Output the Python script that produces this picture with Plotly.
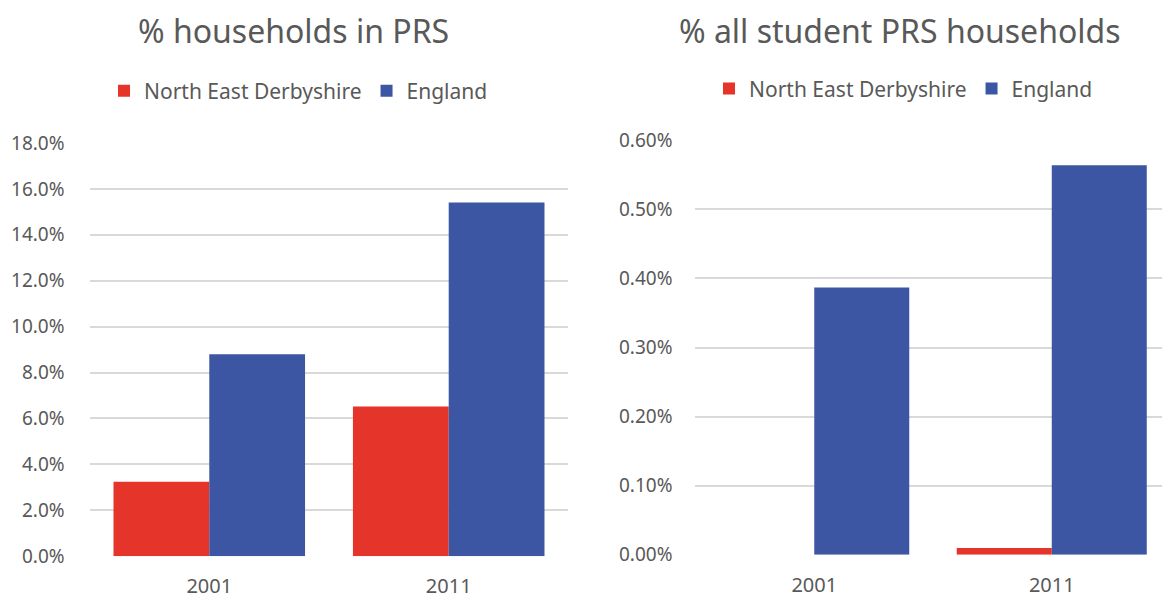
import plotly.graph_objects as go

years = ["2001", "2011"]
ned_prs = [3.24, 6.52]          # % households in PRS, North East Derbyshire
eng_prs = [8.80, 15.41]         # % households in PRS, England
ned_student = [0.0, 0.010]      # % all student PRS households, North East Derbyshire
eng_student = [0.387, 0.564]    # % all student PRS households, England

RED = "#E5352A"
BLUE = "#3C56A3"
GREY = "#595959"
FONT = "Noto Sans"

fig = go.Figure()

# left chart
fig.add_trace(go.Bar(x=years, y=ned_prs, name="North East Derbyshire", marker_color=RED,
                     xaxis="x", yaxis="y", legend="legend"))
fig.add_trace(go.Bar(x=years, y=eng_prs, name="England", marker_color=BLUE,
                     xaxis="x", yaxis="y", legend="legend"))
# right chart
fig.add_trace(go.Bar(x=years, y=ned_student, name="North East Derbyshire", marker_color=RED,
                     xaxis="x2", yaxis="y2", legend="legend2"))
fig.add_trace(go.Bar(x=years, y=eng_student, name="England", marker_color=BLUE,
                     xaxis="x2", yaxis="y2", legend="legend2"))

fig.update_traces(marker_line_width=0, hoverinfo="x+y+name")

ytick_font = dict(family=FONT, size=19, color=GREY)
xtick_font = dict(family=FONT, size=20, color=GREY)
grid = dict(showgrid=True, gridcolor="#D9D9D9", gridwidth=2, zeroline=False)

fig.update_layout(
    width=1170, height=600,
    margin=dict(l=0, r=0, t=0, b=0),
    plot_bgcolor="white", paper_bgcolor="white",
    font=dict(family=FONT, color=GREY),
    barmode="group", bargap=0.2, bargroupgap=0,
    xaxis=dict(domain=[0.0697, 0.479], anchor="y", tickfont=xtick_font,
               showline=False, ticks="", ticklabelstandoff=16),
    yaxis=dict(domain=[0.0677, 0.7875], anchor="x", range=[0, 18], dtick=2,
               tickformat=".1f", ticksuffix="%", tickfont=ytick_font,
               ticklabelstandoff=24, **grid),
    xaxis2=dict(domain=[0.5876, 0.9936], anchor="y2", tickfont=xtick_font,
                showline=False, ticks="", ticklabelstandoff=16),
    yaxis2=dict(domain=[0.07, 0.7922], anchor="x2", range=[0, 0.6], dtick=0.1,
                tickformat=".2f", ticksuffix="%", tickfont=ytick_font,
                ticklabelstandoff=22, **grid),
    legend=dict(orientation="h", x=0.2483, xanchor="center", y=0.8777,
                yanchor="middle", font=dict(family=FONT, size=21, color=GREY),
                itemwidth=30, traceorder="normal"),
    legend2=dict(orientation="h", x=0.7654, xanchor="center", y=0.882,
                 yanchor="middle", font=dict(family=FONT, size=21, color=GREY),
                 itemwidth=30, traceorder="normal"),
    annotations=[
        dict(text="% households in PRS", x=0.2444, y=1.025, xref="paper",
             yref="paper", xanchor="center", yanchor="top", showarrow=False,
             font=dict(family=FONT, size=32, color=GREY)),
        dict(text="% all student PRS households", x=0.7624, y=1.025,
             xref="paper", yref="paper", xanchor="center", yanchor="top",
             showarrow=False, font=dict(family=FONT, size=32, color=GREY)),
    ],
)

fig.write_html("out.html")
